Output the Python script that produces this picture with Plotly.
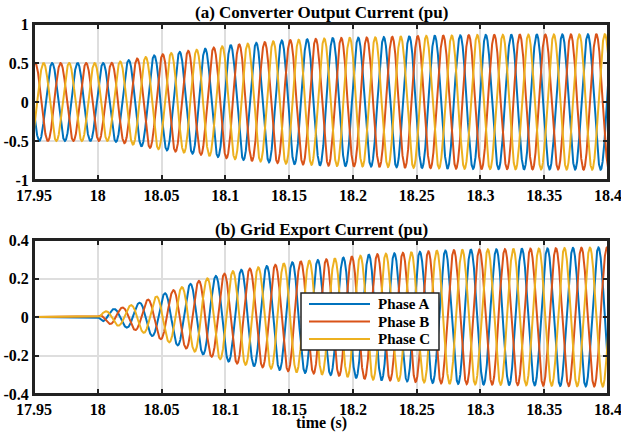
import numpy as np
import plotly.graph_objects as go
from plotly.subplots import make_subplots

# ---- data ----
phase_names = ["Phase A", "Phase B", "Phase C"]
phase_colors = ["#0072BD", "#D95319", "#EDB120"]
phase_shift_deg = [0, -120, 120]
freq_hz = 50.0

# (a) converter output current envelope (pu)
conv_env_t = [17.95, 18.0, 18.01, 18.025, 18.045, 18.065, 18.085, 18.105, 18.125,
              18.145, 18.185, 18.22, 18.25, 18.3, 18.35, 18.4]
conv_env_a = [0.5, 0.5, 0.5, 0.54, 0.6, 0.645, 0.685, 0.73, 0.76,
              0.79, 0.82, 0.83, 0.845, 0.86, 0.865, 0.87]
conv_peak_time_A = 17.9642

# (b) grid export current envelope (pu)
grid_env_t = [17.95, 18.0, 18.004, 18.011, 18.02, 18.033, 18.054, 18.08, 18.107,
              18.153, 18.188, 18.214, 18.24, 18.268, 18.294, 18.321, 18.353, 18.376, 18.4]
grid_env_a = [0.0, 0.0, 0.025, 0.04, 0.05, 0.075, 0.127, 0.19, 0.24,
              0.285, 0.305, 0.325, 0.334, 0.345, 0.35, 0.353, 0.357, 0.36, 0.362]
grid_peak_time_A = 18.0125

x_ticks = [17.95, 18.0, 18.05, 18.1, 18.15, 18.2, 18.25, 18.3, 18.35, 18.4]
x_ticklabels = ["17.95", "18", "18.05", "18.1", "18.15", "18.2", "18.25", "18.3", "18.35", "18.4"]
y1_ticks = [-1, -0.5, 0, 0.5, 1]
y1_ticklabels = ["-1", "-0.5", "0", "0.5", "1"]
y2_ticks = [-0.4, -0.2, 0, 0.2, 0.4]
y2_ticklabels = ["-0.4", "-0.2", "0", "0.2", "0.4"]

title_a = "(a) Converter Output Current (pu)"
title_b = "(b) Grid Export Current (pu)"
x_title = "time (s)"

# ---- build waveforms ----
t = np.arange(17.95, 18.4 + 1e-9, 0.00005)

def waves(env_t, env_a, tpk):
    env = np.interp(t, env_t, env_a)
    out = []
    for sh in phase_shift_deg:
        out.append(env * np.cos(2 * np.pi * freq_hz * (t - tpk) + np.deg2rad(sh)))
    return out

conv = waves(conv_env_t, conv_env_a, conv_peak_time_A)
grid = waves(grid_env_t, grid_env_a, grid_peak_time_A)

FONT = "Liberation Serif"
TICKFONT = dict(family=FONT, size=16, color="black", weight="bold")
DARK = "#222222"
fig = make_subplots(rows=2, cols=1)

for i in range(3):
    fig.add_trace(go.Scatter(x=t, y=conv[i], mode="lines", name=phase_names[i],
                             line=dict(color=phase_colors[i], width=2), showlegend=False),
                  row=1, col=1)
for i in range(3):
    fig.add_trace(go.Scatter(x=t, y=grid[i], mode="lines", name=phase_names[i],
                             line=dict(color=phase_colors[i], width=2), showlegend=False),
                  row=2, col=1)

axis_common = dict(showline=True, linecolor=DARK, linewidth=2, mirror="ticks",
                   ticks="inside", ticklen=5, tickwidth=1.5, tickcolor=DARK,
                   showgrid=True, gridcolor="#dedede", gridwidth=1.5, zeroline=False,
                   automargin=False, tickfont=TICKFONT, ticklabeloverflow="allow")

fig.update_xaxes(**axis_common, range=[17.95, 18.4], tickvals=x_ticks, ticktext=x_ticklabels)
fig.update_yaxes(**axis_common)
fig.update_yaxes(range=[-1, 1], tickvals=y1_ticks, ticktext=y1_ticklabels, row=1, col=1)
fig.update_yaxes(range=[-0.4, 0.4], tickvals=y2_ticks, ticktext=y2_ticklabels, row=2, col=1)

W, H = 621.0, 437.0
ml, mr, mt, mb = 34, 13, 24, 43
pw = W - ml - mr
ph = H - mt - mb
def px(xpx):
    return (xpx - ml) / pw
def py(ypx):
    return (H - mb - ypx) / ph

top_dom = [py(180), 1.0]
bot_dom = [0.0, py(240)]

shapes = []
# frames around both axes (paper coordinates, not clipped)
for d in (top_dom, bot_dom):
    shapes.append(dict(type="rect", xref="paper", yref="paper", x0=0, x1=1, y0=d[0], y1=d[1],
                       line=dict(color=DARK, width=2), layer="above"))

# legend box (drawn like the reference's inset legend)
leg_x0, leg_x1, leg_y0, leg_y1 = 301, 439, 293, 350
shapes.append(dict(type="rect", xref="paper", yref="paper",
                   x0=px(leg_x0), x1=px(leg_x1), y0=py(leg_y1), y1=py(leg_y0),
                   fillcolor="white", line=dict(color=DARK, width=1.5), layer="above"))
annotations = []
row_y = [304, 321.5, 339]
for name, col, ry in zip(phase_names, phase_colors, row_y):
    shapes.append(dict(type="line", xref="paper", yref="paper",
                       x0=px(309), x1=px(370), y0=py(ry), y1=py(ry),
                       line=dict(color=col, width=2), layer="above"))
    annotations.append(dict(text="<b>%s</b>" % name, xref="paper", yref="paper",
                            x=px(376), y=py(ry), xanchor="left", yanchor="middle",
                            showarrow=False, font=dict(family=FONT, size=15, color="black")))

annotations += [
    dict(text="<b>%s</b>" % title_a, xref="paper", yref="paper", x=0.5, y=py(12),
         xanchor="center", yanchor="middle", showarrow=False,
         font=dict(family=FONT, size=17, color="black")),
    dict(text="<b>%s</b>" % title_b, xref="paper", yref="paper", x=0.5, y=py(229),
         xanchor="center", yanchor="middle", showarrow=False,
         font=dict(family=FONT, size=17, color="black")),
    dict(text="<b>%s</b>" % x_title, xref="paper", yref="paper", x=0.5, y=py(423),
         xanchor="center", yanchor="middle", showarrow=False,
         font=dict(family=FONT, size=16, color="black")),
]

fig.update_layout(
    width=621, height=437,
    margin=dict(l=ml, r=mr, t=mt, b=mb, autoexpand=False),
    paper_bgcolor="white", plot_bgcolor="white",
    font=dict(family=FONT, size=16, color="black", weight="bold"),
    yaxis=dict(domain=top_dom),
    yaxis2=dict(domain=bot_dom),
    showlegend=False,
    shapes=shapes,
    annotations=annotations,
)

fig.write_html("out.html", config={"displayModeBar": False},
               post_script="document.body.style.margin='0';document.body.style.overflow='hidden';")
